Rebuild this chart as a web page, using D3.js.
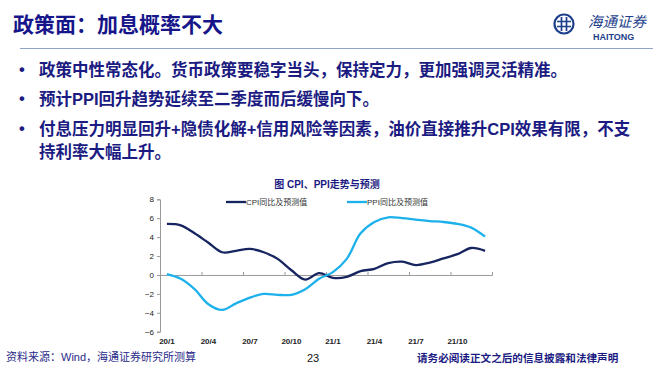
<!DOCTYPE html>
<html>
<head>
<meta charset="utf-8">
<script src="https://cdn.jsdelivr.net/npm/d3@7"></script>
<style>
  body { margin: 0; background: #fff; }
  svg { display: block; font-family: "Liberation Sans", "Noto Sans CJK SC", sans-serif; }
  .bullet { font-weight: bold; fill: #1b1b82; font-size: 16.5px; }
  .tick text { font-size: 8px; fill: #222; }
</style>
</head>
<body>
<svg width="668" height="371"></svg>
<script>
const months = ['20/1','20/2','20/3','20/4','20/5','20/6','20/7','20/8','20/9','20/10','20/11','20/12',
                '21/1','21/2','21/3','21/4','21/5','21/6','21/7','21/8','21/9','21/10','21/11','21/12'];
const cpi = [5.4, 5.25, 4.4, 3.4, 2.4, 2.55, 2.75, 2.4, 1.7, 0.5, -0.5, 0.2,
             -0.3, -0.2, 0.4, 0.65, 1.25, 1.4, 1.05, 1.3, 1.75, 2.2, 2.85, 2.55];
const ppi = [0.1, -0.4, -1.5, -3.1, -3.7, -3.0, -2.4, -2.0, -2.1, -2.1, -1.5, -0.4,
             0.3, 1.7, 4.4, 5.6, 6.1, 6.0, 5.85, 5.7, 5.6, 5.4, 5.0, 4.05];
const yTicks = [-6, -4, -2, 0, 2, 4, 6, 8];
const xLabelMonths = ['20/1','20/4','20/7','20/10','21/1','21/4','21/7','21/10'];
const seriesNames = ['CPI同比及预测值', 'PPI同比及预测值'];
const bullets = [
  ['政策中性常态化。货币政策要稳字当头，保持定力，更加强调灵活精准。'],
  ['预计PPI回升趋势延续至二季度而后缓慢向下。'],
  ['付息压力明显回升+隐债化解+信用风险等因素，油价直接推升CPI效果有限，不支', '持利率大幅上升。']
];

const svg = d3.select('svg');
const navy = '#1b1b82';
const logoBlue = '#1e3f8c';

// header
svg.append('text')
  .attr('x', 13).attr('y', 32)
  .attr('fill', '#16168a')
  .style('font-size', '21px').style('font-weight', 'bold')
  .style('font-family', '"Noto Sans CJK SC"')
  .text('政策面：加息概率不大');

svg.append('line')
  .attr('x1', 20).attr('x2', 653).attr('y1', 48.5).attr('y2', 48.5)
  .attr('stroke', '#90a4c8').attr('stroke-width', 1.2);

// logo
const logo = svg.append('g').attr('transform', 'translate(564,24)');
logo.append('circle').attr('r', 9.5).attr('fill', 'none').attr('stroke', logoBlue).attr('stroke-width', 2.2);
logo.append('path')
  .attr('d', 'M-7,-2.5 H7 M-7,2.5 H7 M-2.5,-7 V7 M2.5,-7 V7')
  .attr('stroke', logoBlue).attr('stroke-width', 1.7).attr('fill', 'none');
svg.append('text').attr('x', 588).attr('y', 27)
  .attr('fill', logoBlue).style('font-size', '14.5px').style('font-style', 'italic')
  .style('font-family', '"Noto Sans CJK SC"').text('海通证券');
svg.append('text').attr('x', 593).attr('y', 40)
  .attr('fill', logoBlue).style('font-size', '9px').style('font-weight', 'bold')
  .text('HAITONG');

// bullets
const lineY = [[76], [105], [135, 158]];
bullets.forEach((b, i) => {
  svg.append('text').attr('class', 'bullet').attr('x', 19).attr('y', lineY[i][0] - 1).text('•');
  b.forEach((t, j) => {
    svg.append('text').attr('class', 'bullet').attr('x', 39).attr('y', lineY[i][j]).text(t);
  });
});

// chart
svg.append('text')
  .attr('x', 327).attr('y', 188)
  .attr('text-anchor', 'middle')
  .attr('fill', navy)
  .style('font-size', '10px').style('font-weight', 'bold')
  .text('图 CPI、PPI走势与预测');

const xScale = d3.scaleLinear().domain([0, months.length]).range([160, 492]);
const yScale = d3.scaleLinear().domain([-6, 8]).range([331.7, 199.3]);
const xPos = (d, i) => xScale(i + 0.5);

const yAxis = d3.axisLeft(yScale).tickValues(yTicks).tickSize(3).tickPadding(3);
const yAxisG = svg.append('g').attr('transform', 'translate(160,0)').call(yAxis);
yAxisG.select('.domain').attr('stroke', '#999');
yAxisG.selectAll('.tick line').attr('stroke', '#999');

const xAxis = d3.axisTop(xScale)
  .tickValues(d3.range(0, months.length + 1, 3))
  .tickSize(3).tickFormat('');
const xAxisG = svg.append('g').attr('transform', `translate(0,${yScale(0)})`).call(xAxis);
xAxisG.select('.domain').attr('stroke', '#999');
xAxisG.selectAll('.tick line').attr('stroke', '#999');

svg.append('g').selectAll('text')
  .data(xLabelMonths).enter().append('text')
  .attr('x', d => xScale(months.indexOf(d) + 0.5))
  .attr('y', 344)
  .attr('text-anchor', 'middle')
  .attr('fill', '#222')
  .style('font-size', '8px').style('font-weight', 'bold')
  .text(d => d);

const line = d3.line()
  .x(xPos)
  .y(d => yScale(d))
  .curve(d3.curveCatmullRom.alpha(0.5));

const colors = ['#16255f', '#1db1ec'];
[cpi, ppi].forEach((s, k) => {
  svg.append('path')
    .datum(s)
    .attr('d', line)
    .attr('fill', 'none')
    .attr('stroke', colors[k])
    .attr('stroke-width', 2.3);
});

// legend
const legendX = [226, 347];
seriesNames.forEach((n, k) => {
  svg.append('line')
    .attr('x1', legendX[k]).attr('x2', legendX[k] + 20)
    .attr('y1', 202).attr('y2', 202)
    .attr('stroke', colors[k]).attr('stroke-width', 2.3);
  svg.append('text')
    .attr('x', legendX[k] + 20).attr('y', 205)
    .attr('fill', '#333')
    .style('font-size', '8px')
    .text(n);
});

// footer
svg.append('text').attr('x', 6).attr('y', 361)
  .attr('fill', '#2a2a8a').style('font-size', '11px')
  .text('资料来源：Wind，海通证券研究所测算');
svg.append('text').attr('x', 313).attr('y', 362)
  .attr('text-anchor', 'middle').attr('fill', '#111').style('font-size', '11px')
  .text('23');
svg.append('text').attr('x', 417).attr('y', 362)
  .attr('fill', navy).style('font-size', '10.6px').style('font-weight', 'bold')
  .text('请务必阅读正文之后的信息披露和法律声明');
</script>
</body>
</html>
